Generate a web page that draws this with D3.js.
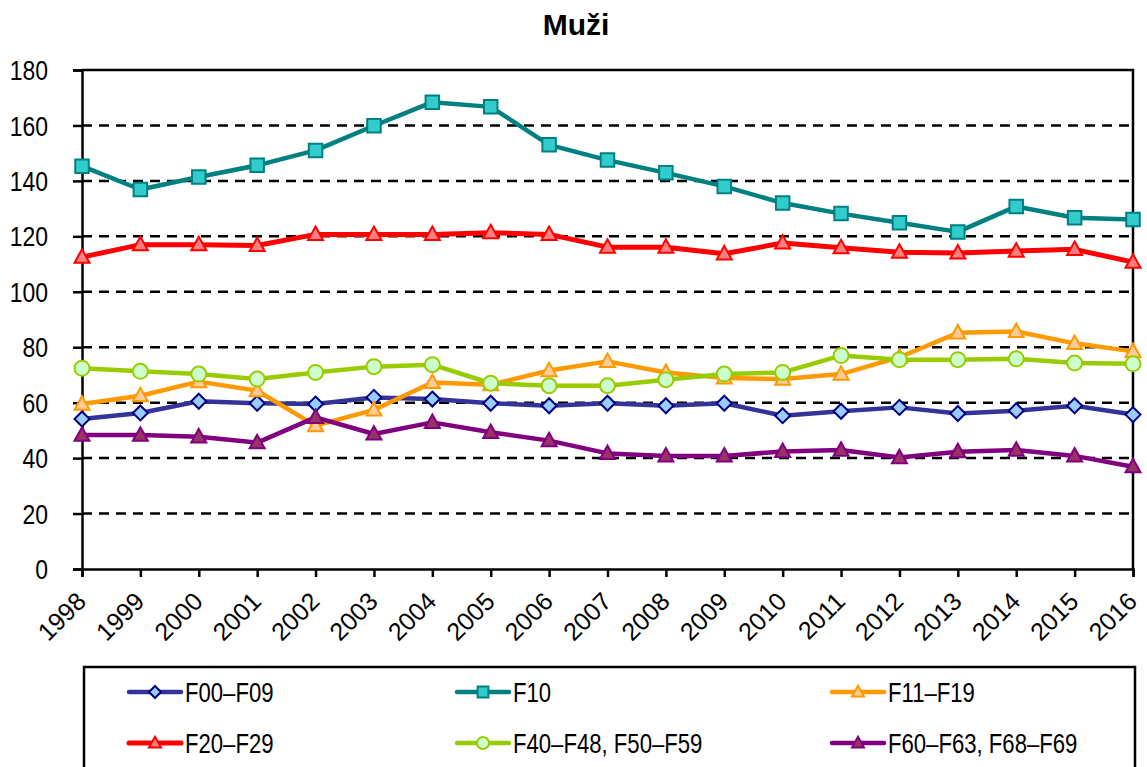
<!DOCTYPE html>
<html><head><meta charset="utf-8">
<script src="https://cdn.jsdelivr.net/npm/d3@7"></script>
<style>
body{margin:0;background:#fff;}
text{font-family:"Liberation Sans",Arial,sans-serif;}
</style></head><body>
<svg id="chart" width="1147" height="767"></svg>
<script>
const years = [1998,1999,2000,2001,2002,2003,2004,2005,2006,2007,2008,2009,2010,2011,2012,2013,2014,2015,2016];
const yTicks = [0,20,40,60,80,100,120,140,160,180];
const seriesNames = ["F00–F09","F10","F11–F19","F20–F29","F40–F48, F50–F59","F60–F63, F68–F69"];
const f00 = [54.1,56.3,60.5,59.8,59.5,61.9,61.3,59.8,58.9,59.8,58.9,59.8,55.3,56.9,58.3,56.1,57.1,58.9,55.7];
const f10 = [145.3,136.9,141.4,145.6,151.0,159.9,168.4,166.7,153.0,147.5,142.9,138.0,132.0,128.2,124.9,121.6,130.8,126.7,126.1];
const f11 = [59.5,62.5,67.6,64.3,51.7,57.4,67.3,66.5,71.6,74.9,70.9,68.9,68.5,70.3,76.4,85.2,85.7,81.4,78.5];
const f20 = [112.5,117.0,117.0,116.7,120.7,120.7,120.7,121.3,120.7,116.1,116.1,113.7,117.6,115.9,114.3,114.0,114.7,115.3,110.7];
const f40 = [72.4,71.3,70.3,68.5,70.9,73.0,73.7,67.0,66.1,66.1,68.3,70.3,70.9,77.0,75.5,75.5,75.8,74.3,74.0];
const f60 = [48.3,48.3,47.7,45.6,54.7,48.7,52.9,49.3,46.3,41.7,40.8,40.8,42.4,42.9,40.2,42.3,42.9,40.8,36.9];

const styles = [
  {line:"#333399", fill:"#99ccff", stroke:"#000080", shape:"diamond", lw:4.5},
  {line:"#008080", fill:"#33cccc", stroke:"#008080", shape:"square", lw:4.5},
  {line:"#ff9900", fill:"#ffcc99", stroke:"#ff9900", shape:"triangle", lw:4.5},
  {line:"#ff0000", fill:"#ff8080", stroke:"#ff0000", shape:"triangle", lw:5},
  {line:"#99cc00", fill:"#ccffcc", stroke:"#99cc00", shape:"circle", lw:4.5},
  {line:"#800080", fill:"#993366", stroke:"#800080", shape:"triangle", lw:4.5}
];
const allData = [f00,f10,f11,f20,f40,f60];
const NARROW = 0.82;

const svg = d3.select("#chart");
const x = d3.scaleLinear().domain([1998,2016]).range([82,1133]);
const y = d3.scaleLinear().domain([0,180]).range([569,70]);

// title
svg.append("text").attr("x",576).attr("y",35).attr("text-anchor","middle")
  .attr("font-weight","bold").attr("font-size",30).text("Muži");

// gridlines
svg.append("g").selectAll("line").data(yTicks.filter(t=>t>0 && t<180)).join("line")
  .attr("x1",82).attr("x2",1133).attr("y1",d=>y(d)).attr("y2",d=>y(d))
  .attr("stroke","#000").attr("stroke-width",2.5).attr("stroke-dasharray","10,7");

// border top/right
svg.append("path").attr("d",`M82,${y(180)}H1133V${y(0)}`).attr("fill","none").attr("stroke","#000").attr("stroke-width",2.5);

// y axis
const yAxis = svg.append("g").attr("transform","translate(82,0)")
  .call(d3.axisLeft(y).tickValues(yTicks).tickSize(9).tickFormat(""));
yAxis.select(".domain").attr("stroke-width",2.5);
yAxis.selectAll(".tick line").attr("stroke-width",2.5);
svg.append("g").selectAll("text").data(yTicks).join("text")
  .attr("transform",d=>`translate(48,${y(d)}) scale(${NARROW},1)`)
  .attr("text-anchor","end").attr("dy","0.36em").attr("font-size",28).attr("fill","#000")
  .text(d=>d3.format("d")(d));

// x axis
const xAxis = svg.append("g").attr("transform",`translate(0,${y(0)})`)
  .call(d3.axisBottom(x).tickValues(years).tickSize(8).tickFormat(d3.format("d")));
xAxis.select(".domain").attr("stroke-width",2.5);
xAxis.selectAll(".tick line").attr("stroke-width",2.5);
xAxis.selectAll("text").attr("font-family","Liberation Sans, Arial, sans-serif").attr("font-size",25).attr("fill","#000")
  .attr("text-anchor","end").attr("dy",0).attr("y",0)
  .attr("transform","translate(5,34) rotate(-45)");

function markerPath(shape, s){
  if(shape==="diamond") return `M0,${-s}L${s},0L0,${s}L${-s},0Z`;
  if(shape==="square") return `M${-s*0.9},${-s*0.9}H${s*0.9}V${s*0.9}H${-s*0.9}Z`;
  if(shape==="triangle") return `M0,${-s*1.05}L${s},${s*0.75}L${-s},${s*0.75}Z`;
  return d3.arc()({innerRadius:0,outerRadius:s,startAngle:0,endAngle:2*Math.PI});
}

const line = d3.line().x((d,i)=>x(years[i])).y(d=>y(d));
allData.forEach((data,k)=>{
  const st = styles[k];
  const g = svg.append("g");
  g.append("path").datum(data).attr("d",line).attr("fill","none")
    .attr("stroke",st.line).attr("stroke-width",st.lw).attr("stroke-linejoin","round");
  g.selectAll("path.m").data(data).join("path").attr("class","m")
    .attr("transform",(d,i)=>`translate(${x(years[i])},${y(d)})`)
    .attr("d",markerPath(st.shape,7.5)).attr("fill",st.fill).attr("stroke",st.stroke).attr("stroke-width",2);
});

// legend
svg.append("rect").attr("x",84).attr("y",667).attr("width",1051).attr("height",120)
  .attr("fill","#fff").attr("stroke","#000").attr("stroke-width",2.5);
const legX = [129,457,832];
const legY = [692,743];
seriesNames.forEach((name,k)=>{
  const st = styles[k];
  const lx = legX[k%3], ly = legY[Math.floor(k/3)];
  const g = svg.append("g").attr("transform",`translate(${lx},${ly})`);
  g.append("line").attr("x1",0).attr("x2",52).attr("y1",0).attr("y2",0)
    .attr("stroke",st.line).attr("stroke-width",st.lw).attr("stroke-linecap","round");
  g.append("path").attr("transform","translate(26,0)").attr("d",markerPath(st.shape,6))
    .attr("fill",st.fill).attr("stroke",st.stroke).attr("stroke-width",2);
  g.append("text").attr("transform",`translate(56,10) scale(${NARROW},1)`)
    .attr("font-size",27).attr("fill","#000").text(name);
});
</script></body></html>
